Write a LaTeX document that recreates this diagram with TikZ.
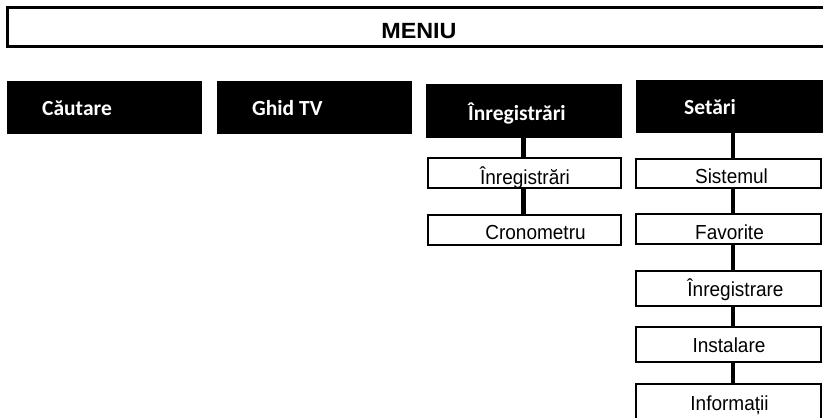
\documentclass[tikz,border=0pt]{standalone}
\usepackage{fontspec}
\setmainfont{Liberation Sans}
\newfontfamily\calib{Carlito}
\newcommand{\tallsub}[1]{\scalebox{1}[1.07]{#1}}
\begin{document}
\begin{tikzpicture}[x=1pt,y=-1pt,
  blk/.style={fill=black, draw=none, inner sep=0pt},
  sub/.style={draw=black, line width=2pt, fill=white, inner sep=0pt, minimum width=#1},
  sub/.default=193pt,
  conn/.style={draw=black, line width=4.5pt},
  blktxt/.style={text=white, inner sep=0pt, anchor=base west, font=\calib\bfseries\fontsize{21.5}{24}\selectfont},
  subtxt/.style={text=black, inner sep=0pt, anchor=base, font=\fontsize{19}{22}\selectfont}
]
\useasboundingbox (0,0) rectangle (823,418);
\clip (0,0) rectangle (823,418);

% MENIU bar
\node[draw=black, line width=3pt, inner sep=0pt, minimum width=827.5pt, minimum height=39pt] (menu) at (421.25,27) {};
\node[inner sep=0pt, anchor=base, font=\bfseries\fontsize{22}{26}\selectfont] (menutxt) at (419,38) {\scalebox{1.06}[1]{MENIU}};

% top-level black boxes
\node[blk, minimum width=195pt, minimum height=53pt] (cautare) at (104.5,107.5) {};
\node[blk, minimum width=195pt, minimum height=53pt] (ghid) at (314.5,107.5) {};
\node[blk, minimum width=196pt, minimum height=54pt] (inreg) at (524,111) {};
\node[blk, minimum width=199pt, minimum height=53pt] (setari) at (735.5,106.5) {};

\node[blktxt] (cautaretxt) at (42,115) {Căutare};
\node[blktxt] (ghidtxt) at (252,115) {Ghid TV};
\node[blktxt] (inregtxt) at (468,120) {Înregistrări};
\node[blktxt] (setaritxt) at (684,114) {Setări};

% Înregistrări column
\node[sub, minimum height=30pt] (recI) at (524.5,173) {};
\node[sub, minimum height=30pt] (cron) at (524.5,230) {};

% Setări column
\node[sub=185pt, minimum height=29pt] (sist) at (728.5,173.5) {};
\node[sub=185pt, minimum height=30pt] (fav) at (728.5,229) {};
\node[sub=185pt, minimum height=35pt] (inr) at (728.5,288.5) {};
\node[sub=185pt, minimum height=35pt] (inst) at (728.5,344.5) {};
\node[sub=185pt, minimum height=35pt] (info) at (728.5,401.5) {};

% connectors
\draw[conn] ([xshift=-0.5pt]inreg.south) -- ([xshift=-0.5pt]inreg.south |- recI.north);
\draw[conn] ([xshift=-1pt]recI.south) -- ([xshift=-1pt]cron.north);
\draw[conn] ([xshift=4.5pt]sist.north |- setari.south) -- ([xshift=4.5pt]sist.north);
\draw[conn] ([xshift=4.5pt]sist.south) -- ([xshift=4.5pt]fav.north);
\draw[conn] ([xshift=4.5pt]fav.south) -- ([xshift=4.5pt]inr.north);
\draw[conn] ([xshift=4.5pt]inr.south) -- ([xshift=4.5pt]inst.north);
\draw[conn] ([xshift=4.5pt]inst.south) -- ([xshift=4.5pt]info.north);

% sub-item texts
\node[subtxt] (recItxt) at (525,184) {\tallsub{Înregistrări}};
\node[subtxt] (crontxt) at (535.5,239.5) {\tallsub{Cronometru}};
\node[subtxt] (sisttxt) at (731.5,183) {\tallsub{Sistemul}};
\node[subtxt] (favtxt) at (729.5,239.5) {\tallsub{Favorite}};
\node[subtxt] (inrtxt) at (735.5,296) {\tallsub{Înregistrare}};
\node[subtxt] (insttxt) at (729,352) {\tallsub{Instalare}};
\node[subtxt] (infotxt) at (729.5,410) {\tallsub{Informații}};
\end{tikzpicture}
\end{document}
